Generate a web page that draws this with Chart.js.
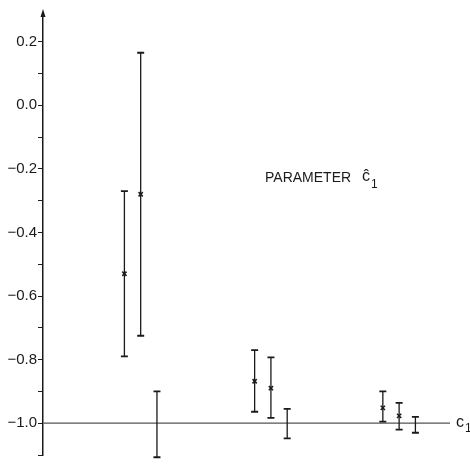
<!DOCTYPE html>
<html>
<head>
<meta charset="utf-8">
<script src="https://cdn.jsdelivr.net/npm/chart.js@4.4.0/dist/chart.umd.min.js"></script>
<style>
  html, body { margin: 0; padding: 0; background: #fff; }
  #wrap { width: 470px; height: 465px; }
</style>
</head>
<body>
<div id="wrap"><canvas id="paramChart"></canvas></div>
<script>
// estimate positions (arbitrary units along c1) and values
const positions = [20, 24, 28, 52, 56, 60, 83.5, 87.5, 91.5];
const centers   = [-0.53, -0.28, null, -0.868, -0.89, null, -0.952, -0.977, null];
const upper     = [-0.27, 0.165, -0.90, -0.77, -0.793, -0.955, -0.90, -0.936, -0.98];
const lower     = [-0.79, -0.725, -1.107, -0.964, -0.983, -1.048, -0.995, -1.02, -1.03];
const yTicks    = [-1.1, -1.0, -0.9, -0.8, -0.7, -0.6, -0.5, -0.4, -0.3, -0.2, -0.1, 0.0, 0.1, 0.2];
const yLabels   = ['-1.0', '-0.8', '-0.6', '-0.4', '-0.2', '0.0', '0.2'];
const baseline  = -1.0;

document.addEventListener("DOMContentLoaded", () => {
    const ink = '#1a1a1a';
    const font = '"Liberation Sans", Arial, sans-serif';

    const errorBars = {
        id: 'errorBars',
        afterDatasetsDraw(chart) {
            const { ctx, scales: { x, y } } = chart;
            ctx.save();
            ctx.strokeStyle = ink;
            positions.forEach((p, i) => {
                const px = x.getPixelForValue(p);
                const top = y.getPixelForValue(upper[i]);
                const bot = y.getPixelForValue(lower[i]);
                ctx.lineWidth = 1.3;
                ctx.beginPath();
                ctx.moveTo(px, top);
                ctx.lineTo(px, bot);
                ctx.stroke();
                ctx.lineWidth = 1.8;
                ctx.beginPath();
                ctx.moveTo(px - 3.5, top);
                ctx.lineTo(px + 3.5, top);
                ctx.moveTo(px - 3.5, bot);
                ctx.lineTo(px + 3.5, bot);
                ctx.stroke();
            });

            // arrow on the y axis
            const ax = x.left;
            ctx.fillStyle = ink;
            ctx.beginPath();
            ctx.moveTo(ax, y.top - 4);
            ctx.lineTo(ax - 2.5, y.top + 4);
            ctx.lineTo(ax + 2.5, y.top + 4);
            ctx.closePath();
            ctx.fill();

            // labels
            ctx.textBaseline = 'middle';
            const by = y.getPixelForValue(baseline);
            ctx.font = '16px ' + font;
            ctx.fillText('c', x.right + 6, by - 1);
            ctx.font = '12px ' + font;
            ctx.fillText('1', x.right + 15, by + 5);

            ctx.font = '14px ' + font;
            ctx.fillText('PARAMETER', 265, 178);
            ctx.font = '16px ' + font;
            ctx.fillText('ĉ', 362, 177);
            ctx.font = '12px ' + font;
            ctx.fillText('1', 371, 185);
            ctx.restore();
        }
    };

    const ctx = document.getElementById('paramChart').getContext('2d');
    new Chart(ctx, {
        type: 'scatter',
        data: {
            datasets: [{
                label: 'baseline',
                type: 'line',
                data: [{ x: 0, y: baseline }, { x: 100, y: baseline }],
                borderColor: '#555',
                borderWidth: 1.2,
                pointRadius: 0
            }, {
                label: 'estimates',
                data: positions.map((p, i) => ({ x: p, y: centers[i] })).filter(d => d.y !== null),
                pointStyle: 'crossRot',
                pointRadius: 3,
                borderColor: ink,
                borderWidth: 1.5
            }]
        },
        options: {
            responsive: true,
            maintainAspectRatio: false,
            animation: false,
            layout: { padding: { top: 13, right: 20, bottom: 5, left: 0 } },
            scales: {
                x: {
                    type: 'linear',
                    min: 0,
                    max: 100,
                    display: false
                },
                y: {
                    min: -1.1,
                    max: 0.29,
                    afterFit(scale) { scale.width = 43; },
                    afterBuildTicks(scale) {
                        scale.ticks = yTicks.map(v => ({ value: v }));
                    },
                    border: { display: true, color: ink, width: 1.5 },
                    grid: {
                        drawOnChartArea: false,
                        drawTicks: true,
                        tickLength: 5,
                        color: ink,
                        lineWidth: 1
                    },
                    ticks: {
                        color: ink,
                        padding: 1,
                        font: { family: font, size: 15 },
                        callback(value) {
                            const s = Number(value).toFixed(1);
                            return yLabels.includes(s) ? s.replace('-', '\u2212') : '';
                        }
                    }
                }
            },
            plugins: {
                legend: { display: false },
                tooltip: { enabled: false }
            }
        },
        plugins: [errorBars]
    });
});
</script>
</body>
</html>
